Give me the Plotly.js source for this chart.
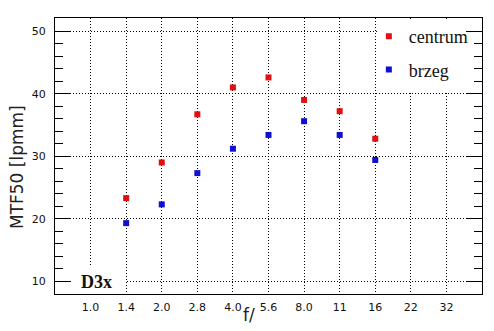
<!DOCTYPE html>
<html>
<head>
<meta charset="utf-8">
<script src="https://cdn.plot.ly/plotly-3.0.1.min.js"></script>
<style>html,body{margin:0;padding:0;background:#fff;}</style>
</head>
<body>
<div id="chart" style="width:494px;height:331px;"></div>
<script>
var fstops = ['1.0','1.4','2.0','2.8','4.0','5.6','8.0','11','16','22','32'];
var measuredStops = ['1.4','2.0','2.8','4.0','5.6','8.0','11','16'];
var centrum = [23.3, 29.0, 36.7, 41.0, 42.6, 39.0, 37.2, 32.8];
var brzeg = [19.3, 22.3, 27.3, 31.2, 33.4, 35.6, 33.4, 29.4];
var seriesNames = ['centrum', 'brzeg'];
var lensLabel = 'D3x';
var xTitle = 'f/';
var yTitle = 'MTF50 [lpmm]';

var traces = [
  {x: measuredStops, y: centrum, name: seriesNames[0], type: 'scatter', mode: 'markers',
   marker: {symbol: 'square', size: 6, color: '#e01010'}, legendgroup: 'a', cliponaxis: false},
  {x: measuredStops, y: brzeg, name: seriesNames[1], type: 'scatter', mode: 'markers',
   marker: {symbol: 'square', size: 6, color: '#1010d0'}, legendgroup: 'b', cliponaxis: false}
];

var axFont = {family: 'DejaVu Sans', size: 11, color: '#111'};
var layout = {
  width: 494, height: 331,
  margin: {l: 55, r: 12, t: 18, b: 37},
  paper_bgcolor: '#fff', plot_bgcolor: '#fff',
  showlegend: true,
  legend: {x: 0.735, xanchor: 'left', y: 1, yanchor: 'top', bgcolor: 'rgba(0,0,0,0)',
           font: {family: 'Liberation Serif', size: 18, color: '#111'},
           traceorder: 'grouped', tracegroupgap: 7, itemwidth: 30},
  xaxis: {type: 'category', categoryorder: 'array', categoryarray: fstops,
          range: [-1, 11], showline: true, linecolor: '#000', linewidth: 1, mirror: true,
          ticks: '', showgrid: true, gridcolor: '#000', gridwidth: 1, griddash: '1px,2px',
          tickfont: axFont, zeroline: false, fixedrange: true, ticklabelstandoff: 3},
  yaxis: {range: [7.97, 52.1], tick0: 0, dtick: 10, ticks: 'inside', ticklen: 15,
          tickwidth: 1, tickcolor: '#000', showline: true, linecolor: '#000', linewidth: 1,
          mirror: 'ticks', showgrid: true, gridcolor: '#000', gridwidth: 1, griddash: '1px,2px',
          zeroline: false, tickfont: axFont, ticklabelstandoff: 6,
          minor: {tick0: 0, dtick: 2, ticks: 'inside', ticklen: 8, tickwidth: 1,
                  tickcolor: '#000', showgrid: false}, fixedrange: true},
  shapes: [
    {type: 'rect', layer: 'above', xref: 'x', yref: 'y', x0: 8.07, x1: 10.53, y0: 40.1, y1: 51.95,
     fillcolor: '#fff', line: {width: 0}},
    {type: 'rect', layer: 'above', xref: 'x', yref: 'y', x0: -0.54, x1: 0.98, y0: 8.1, y1: 12.3,
     fillcolor: '#fff', line: {width: 0}}
  ],
  annotations: [
    {text: '<b>' + lensLabel + '</b>', xref: 'x', yref: 'y', x: 0.17, y: 9.9,
     xanchor: 'center', yanchor: 'middle',
     showarrow: false, font: {family: 'Liberation Serif', size: 18, color: '#111'}},
    {text: xTitle, xref: 'paper', yref: 'paper', x: 0.4555, y: -0.076, showarrow: false,
     xanchor: 'center', yanchor: 'middle',
     font: {family: 'DejaVu Sans', size: 17, color: '#222'}},
    {text: yTitle, xref: 'paper', yref: 'paper', x: -0.089, y: 0.46, showarrow: false,
     xanchor: 'center', yanchor: 'middle',
     textangle: -90, font: {family: 'DejaVu Sans', size: 17, color: '#222'}}
  ]
};

Plotly.newPlot('chart', traces, layout, {staticPlot: true, displayModeBar: false});
</script>
</body>
</html>
